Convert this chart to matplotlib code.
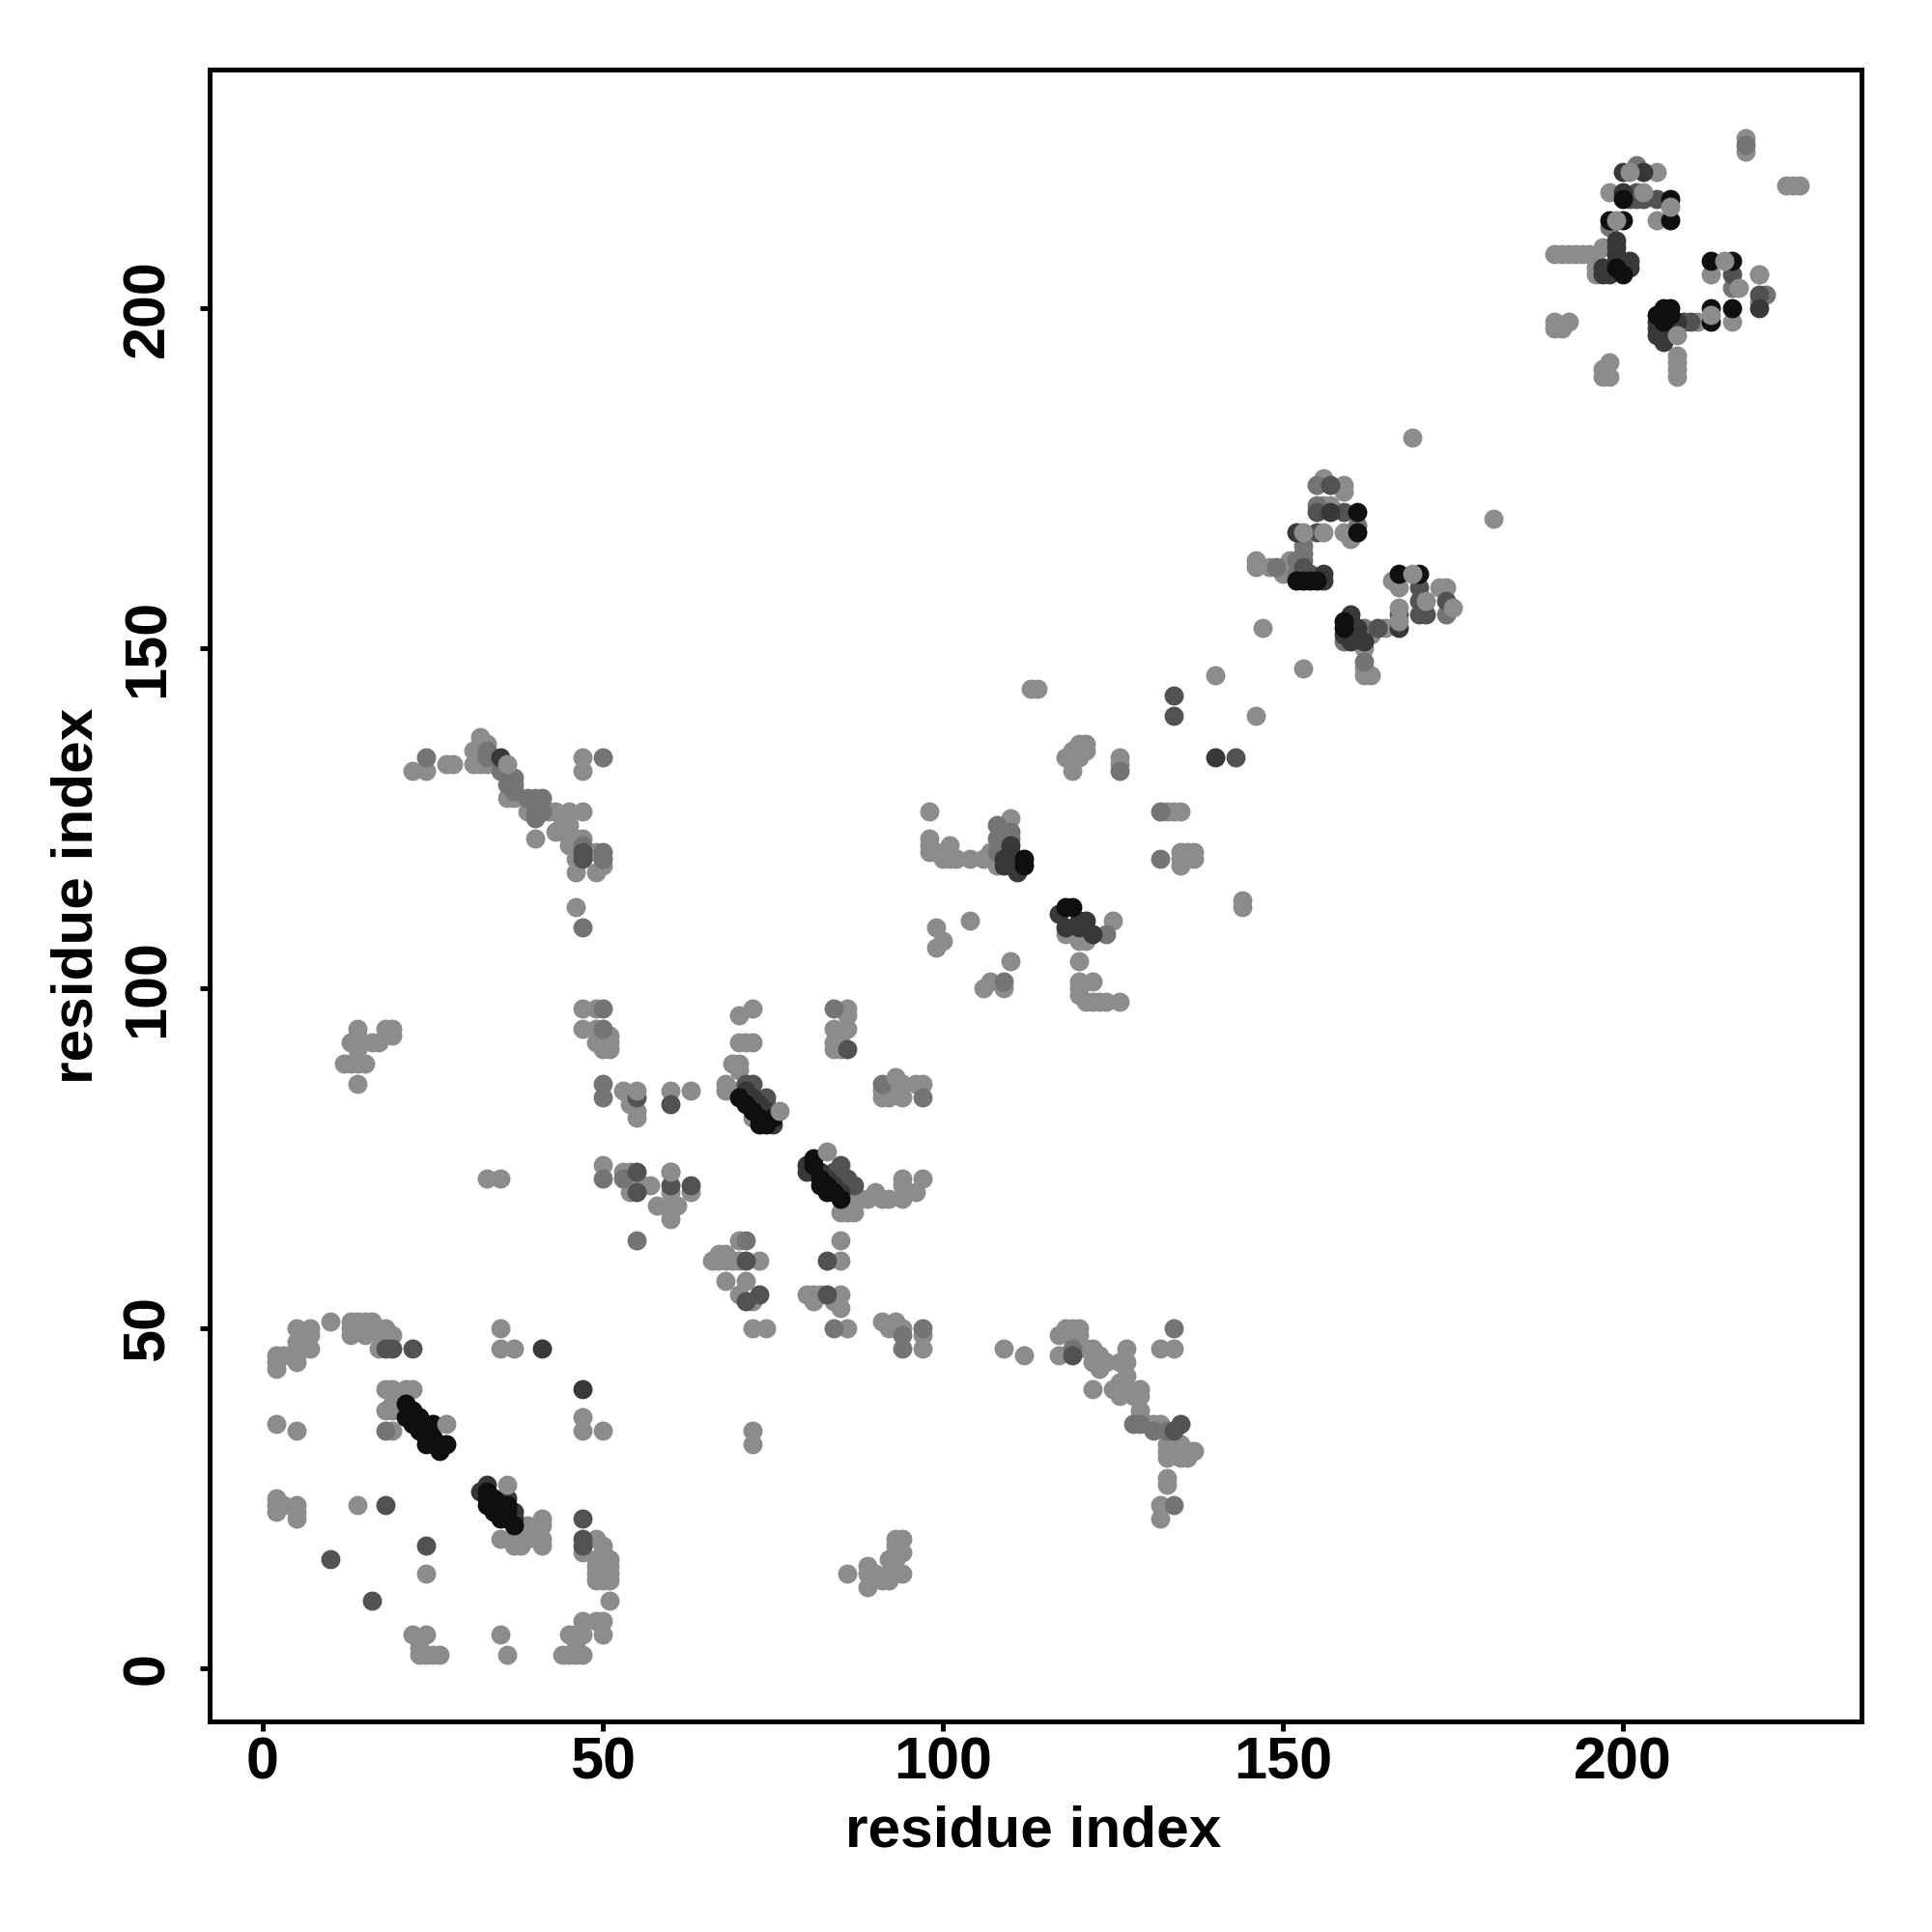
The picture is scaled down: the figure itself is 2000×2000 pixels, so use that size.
import numpy as np
import matplotlib
matplotlib.use("Agg")
import matplotlib.pyplot as plt

# contacts as (residue, residue), grouped by grey level
light = [
    (5,50),(7,50),(10,51),(13,51),(14,51),(15,51),(16,51),(13,50),(14,50),(16,50),(17,50),(18,50),
    (13,49),(15,49),(17,49),(18,49),(19,49),(7,49),(7,47),(5,48),(2,44),(2,45),(2,46),(3,46),(4,46),
    (5,45),(5,46),(5,47),(17,47),(35,50),(35,47),(37,47),(18,41),(19,41),(21,41),(22,41),(19,39),
    (18,38),(19,38),(2,36),(5,35),(19,35),(47,37),(47,35),(50,35),(2,25),(2,24),(2,23),(3,24),(5,24),
    (5,23),(5,22),(14,24),(24,14),(35,19),(37,19),(38,19),(39,19),(41,19),(41,18),(38,18),(37,18),
    (47,17),(49,19),(50,18),(50,17),(49,16),(49,15),(49,14),(49,13),(51,16),(51,15),(51,14),(51,13),
    (50,13),(51,10),(47,7),(49,7),(50,7),(50,5),(45,5),(46,5),(47,5),(46,4),(46,3),(44,2),(45,2),(46,2),
    (47,2),(22,5),(24,5),(23,4),(23,3),(23,2),(24,2),(25,2),(26,2),(35,5),(36,2),(39,21),(40,20),(41,21),(41,22),
    (47,97),(49,97),(47,94),(49,94),(49,92),(51,92),(50,91),(51,91),(51,93),(53,85),(54,84),(55,82),(55,81),
    (54,83),(60,85),(63,85),(50,74),(53,73),(54,72),(54,73),(56,71),(57,71),(54,70),(58,68),(60,73),(63,70),
    (60,70),(60,68),(61,68),(60,66),(60,67),(70,96),(72,97),(70,92),(71,92),(72,92),(69,89),(70,89),(70,88),
    (68,86),(68,85),(69,85),(70,85),(72,81),(86,97),(86,96),(84,94),(85,93),(86,94),(84,92),(84,91),(85,91),
    (93,85),(91,85),(91,84),(92,84),(94,86),(94,84),(96,86),(97,86),(86,70),(88,69),(89,69),(90,70),
    (91,69),(92,69),(94,71),(94,72),(94,69),(96,70),(97,72),(85,67),(86,67),(87,67),(86,68),(70,63),(66,60),
    (67,60),(68,60),(69,60),(70,60),(73,60),(67,61),(68,61),(68,57),(71,57),(70,55),(72,54),(72,50),
    (74,50),(85,63),(85,60),(80,55),(81,55),(82,55),(85,55),(84,54),(81,54),(85,53),(86,50),(91,51),(93,51),
    (92,50),(94,50),(97,49),(97,47),(112,46),(72,35),(72,33),
    (22,132),(24,132),(27,133),(28,133),(31,133),(32,133),(32,137),(31,135),(32,136),(33,136),(32,134),(33,133),
    (36,128),(37,128),(39,126),(42,126),(43,126),(45,126),(47,126),(40,122),(43,123),(44,123),(44,124),(45,124),
    (46,122),(47,122),(45,121),(46,119),(49,120),(50,118),(46,117),(49,117),(46,112),(47,134),(47,132),
    (98,126),(98,122),(98,121),(98,120),(99,120),(100,119),(101,121),(101,119),(102,119),(104,119),(106,119),
    (107,120),(108,118),(110,125),(133,126),(134,126),(135,126),(135,120),(136,120),(137,120),(135,118),(135,119),
    (136,119),(137,119),(144,113),(144,112),(118,108),(125,110),(120,107),(121,107),(120,104),(120,101),(120,100),
    (122,101),(120,99),(121,98),(122,98),(123,98),(124,98),(126,98),(99,109),(100,107),(99,106),(104,110),
    (110,104),(106,100),(107,101),(109,100),
    (181,169),(169,181),(147,153),(153,147),(146,162),(146,163),(148,162),(150,162),(151,163),(150,161),
    (166,160),(167,159),(173,159),(174,159),(165,153),(163,152),(162,150),(162,147),(162,146),(163,146),
    (160,166),(159,167),(156,175),(159,174),(159,173),(157,171),(156,171),
    (218,225),(218,223),(224,218),(225,218),(226,218),(190,208),(191,208),(192,208),(193,208),(194,208),(195,208),
    (190,198),(190,197),(191,197),(192,198),(198,192),(197,191),(197,190),(198,190),(196,207),(196,206),(196,205),
    (197,209),(198,217),(205,220),(205,213),(208,193),(208,192),(208,191),(208,190),(213,205),(211,198),(216,198),
    (220,205),(220,201),(146,140),(140,146),(113,144),(114,144),(118,134),(119,135),(120,136),(121,136),(121,135),
    (120,134),(119,132),(126,134),(126,133),(14,86),(12,89),(13,89),(14,89),(13,92),(14,92),(14,93),(14,94),(16,92),
    (17,92),(18,94),(19,94),(19,93),(14,91),(15,89),(33,72),(35,72),(86,14),(89,15),(89,14),(89,12),(90,14),(91,13),
    (92,14),(92,16),(92,13),(93,14),(93,16),(93,17),(93,18),(94,19),(93,19),(94,17),(94,14),
    (117,49),(118,50),(119,50),(120,50),(119,49),(120,49),(117,46),(121,47),(122,47),(123,46),(124,45),(122,45),
    (123,44),(122,41),(127,47),(126,45),(127,45),(127,43),(126,42),(125,41),(126,40),(127,41),(128,40),(129,41),
    (129,40),(129,38),(129,37),(130,36),(131,36),(132,36),(133,33),(134,33),(133,32),(133,31),(135,33),(136,32),
    (135,31),(136,31),(137,32),(135,32),(133,28),(133,27),(132,24),(132,22),(132,47),(134,47),(109,47),
]

mid = [
    (18,35),(50,97),(84,97),(50,94),(50,86),(50,84),(50,72),(53,72),(55,63),(71,63),(84,50),(97,84),
    (97,50),(94,49),(94,47),(91,86),(24,134),(50,134),(33,135),(33,134),(35,132),(37,131),(37,130),
    (36,130),(37,129),(39,128),(40,128),(41,128),(40,125),(40,126),(41,126),(47,121),(50,120),(50,119),
    (47,109),(108,124),(108,122),(108,120),(110,123),(110,122),(132,126),(132,119),(124,108),(109,101),(134,50),(134,24),
    (128,36),(129,36),(131,35),(133,35),(119,47),(155,174),(155,171),(161,168),(153,165),(153,164),(149,162),
    (162,153),(162,148),(174,155),(159,151),(218,224),(202,221),(198,212),(216,203),(221,202),(126,132),
    (152,163),(153,163),(152,161),
]

dark = [
    (22,47),(18,47),(19,47),(24,18),(10,16),(16,10),(18,24),(47,22),(47,19),(47,18),(55,84),(60,83),(55,73),
    (55,70),(63,71),(60,71),(73,55),(71,54),(83,55),(86,91),(83,60),(71,60),(119,46),(135,36),(134,35),(47,120),(47,119),
    (159,170),(157,174),(155,170),(155,167),(153,162),(174,157),(170,159),(170,157),(170,155),(171,155),(167,155),
    (164,153),(205,216),(216,205),(220,202),(210,198),(209,198),(134,143),(134,140),(143,134),
    (74,84),(74,83),(71,86),(72,86),(84,73),(85,74),(86,71),(87,71),(86,72),(153,161),(154,161),
    (201,216),(202,217),(202,216),(203,216),
]

very_dark = [
    (41,47),(47,41),(35,134),(32,26),(33,27),(36,25),(37,23),(37,22),(109,119),(110,120),(110,121),(117,111),
    (118,109),(120,110),(121,110),(122,108),(120,109),(111,117),(109,118),(110,118),(80,73),(80,74),
    (157,170),(152,167),(156,161),(156,160),(160,155),(160,153),(159,152),(167,153),(200,220),(203,220),
    (200,217),(199,210),(199,209),(199,208),(199,207),(197,206),(198,205),(197,205),(201,207),(201,206),
    (206,197),(206,196),(205,196),(207,197),(208,198),(220,200),(161,152),(162,151),(140,134),
    (71,85),(72,84),(73,83),(74,82),(71,84),(72,83),(73,82),(75,80),(81,73),(82,73),(83,72),(84,71),(85,70),
    (160,154),(160,152),(161,153),(160,151),(205,197),(205,198),(207,198),(206,195),
]

black = [
    (21,39),(21,37),(22,36),(23,37),(24,35),(23,35),(25,34),(25,36),(24,33),(26,33),(27,33),(26,32),
    (22,37),(23,36),(24,34),(25,33),(22,38),(34,25),(35,24),(36,23),(36,22),(34,23),
    (33,26),(33,25),(33,24),(34,24),(35,23),(35,22),(36,24),(37,21),(70,84),(71,83),(72,82),(73,81),(74,80),
    (73,80),(75,81),(81,75),(81,74),(82,71),(83,70),(82,72),(83,71),(84,70),(85,69),(112,119),(112,118),(118,112),(119,112),
    (161,170),(161,167),(154,160),(155,160),(153,160),(152,160),(159,154),(159,153),(167,161),(170,161),
    (207,216),(207,213),(198,213),(200,213),(200,216),(200,205),(213,207),(216,207),(216,200),(213,200),(213,198),
    (206,200),(207,200),(205,199),(206,198),(206,199),(207,199),(199,206),
]

# light contacts that sit over the darker ones
top_light = [
    (27,36),(36,27),(76,82),(83,76),(55,85),(60,73),(93,87),(153,167),(156,167),(169,161),(167,156),(167,154),(171,157),
    (175,156),(201,220),(203,217),(207,215),(199,213),(215,207),(217,203),(220,205),(213,199),(208,196),(36,133),
]

shades = ["#8c8c8c", "#747474", "#525252", "#383838", "#0f0f0f", "#8c8c8c"]
groups = [light, mid, dark, very_dark, black, top_light]

x_ticks = [0, 50, 100, 150, 200]
y_ticks = [0, 50, 100, 150, 200]

plt.rcParams['font.family'] = ['Liberation Sans', 'DejaVu Sans']
plt.rcParams['font.weight'] = 'bold'

fig = plt.figure(figsize=(20, 20), dpi=100)
ax = fig.add_axes([217 / 2000, 1 - 1782 / 2000, 1710 / 2000, 1710 / 2000])

for pts, shade in zip(groups, shades):
    pts = np.array(pts)
    ax.scatter(pts[:, 0], pts[:, 1], s=205, c=shade, linewidths=0)

ax.set_xlim(-7.8, 235.1)
ax.set_ylim(-7.8, 235.1)
ax.set_xticks(x_ticks)
ax.set_yticks(y_ticks)
ax.tick_params(length=7, width=3.6, labelsize=44)
ax.tick_params(axis='x', pad=4)
ax.tick_params(axis='y', pad=18)
for label in ax.get_yticklabels():
    label.set_rotation(90)
    label.set_va('center')
for side in ax.spines.values():
    side.set_linewidth(3.6)

ax.set_xlabel('residue index', fontsize=43.5, fontweight='bold', va='center')
ax.set_ylabel('residue index', fontsize=43.5, fontweight='bold', va='center')
ax.xaxis.set_label_coords(0.4985, -0.0665)
ax.yaxis.set_label_coords(-0.08, 0.5)

fig.savefig('out.png', dpi=100)
